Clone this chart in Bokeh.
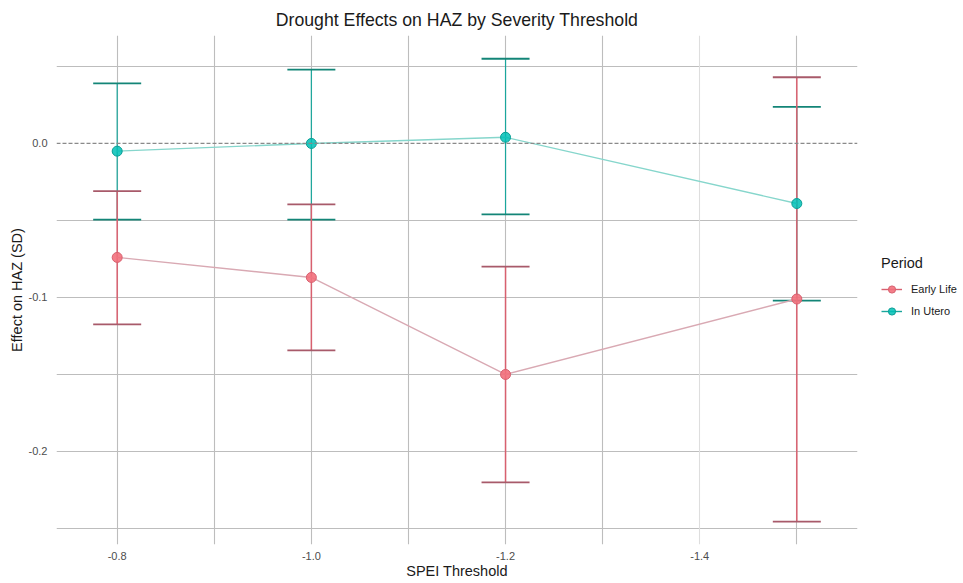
import math
from bokeh.plotting import figure
from bokeh.models import (Range1d, FixedTicker, Whisker, TeeHead, ColumnDataSource,
                          Span, Legend, LegendItem, Grid, NumeralTickFormatter)
from bokeh.embed import file_html
from bokeh.resources import INLINE

# ---- data ----
thresholds = [-0.8, -1.0, -1.2, -1.5]
early_est = [-0.074, -0.087, -0.150, -0.101]
early_lo = [-0.1175, -0.1344, -0.220, -0.2455]
early_hi = [-0.031, -0.0396, -0.080, 0.043]
utero_est = [-0.005, 0.0, 0.004, -0.039]
utero_lo = [-0.0494, -0.0494, -0.046, -0.102]
utero_hi = [0.039, 0.048, 0.055, 0.0237]
x_ticks = [-0.8, -1.0, -1.2, -1.4]
y_ticks = [0.0, -0.1, -0.2]

FONT = "Liberation Sans"

p = figure(frame_width=801, frame_height=509, output_backend="svg", toolbar_location=None,
           x_range=Range1d(-0.7375, -1.5625), y_range=Range1d(-0.2604, 0.0701),
           min_border_left=56, min_border_right=98, min_border_top=35, min_border_bottom=31)
p.outline_line_color = None
p.background_fill_color = "white"
p.border_fill_color = "white"

p.title.text = "Drought Effects on HAZ by Severity Threshold"
p.title.text_font = FONT
p.title.text_font_size = "17.7px"
p.title.text_font_style = "normal"
p.title.align = "center"
p.title.text_color = "#1a1a1a"
p.title.standoff = 11

# axes
for ax in (p.xaxis[0], p.yaxis[0]):
    ax.axis_line_color = None
    ax.major_tick_line_color = None
    ax.minor_tick_line_color = None
    ax.major_label_text_font = FONT
    ax.major_label_text_font_size = "11px"
    ax.major_label_text_color = "#4d4d4d"
    ax.axis_label_text_font = FONT
    ax.axis_label_text_font_size = "14.5px"
    ax.axis_label_text_font_style = "normal"
    ax.axis_label_text_color = "#1a1a1a"
    ax.formatter = NumeralTickFormatter(format="0.0")
p.xaxis.ticker = FixedTicker(ticks=x_ticks)
p.yaxis.ticker = FixedTicker(ticks=y_ticks)
p.xaxis.axis_label = "SPEI Threshold"
p.yaxis.axis_label = "Effect on HAZ (SD)"
p.xaxis.major_label_standoff = 1
p.yaxis.major_label_standoff = 3
p.xaxis.axis_label_standoff = 0
p.yaxis.axis_label_standoff = 1

# grids
p.xgrid.ticker = FixedTicker(ticks=[-0.8, -0.9, -1.0, -1.1, -1.2, -1.3, -1.5])
p.xgrid.grid_line_color = "#bdbdbd"
p.xgrid.grid_line_width = 1.1
p.ygrid.ticker = FixedTicker(ticks=[0.05, -0.05, -0.1, -0.15, -0.2, -0.25])
p.ygrid.grid_line_color = "#bdbdbd"
p.ygrid.grid_line_width = 1.1
p.add_layout(Grid(dimension=0, ticker=FixedTicker(ticks=[-1.4]),
                  grid_line_color="#dedede", grid_line_width=1.1))

p.add_layout(Span(location=0, dimension="width", line_color="#8a8a8a",
                  line_dash="4 2", line_width=1.2))

early_src = ColumnDataSource(dict(x=thresholds, y=early_est, lo=early_lo, hi=early_hi))
utero_src = ColumnDataSource(dict(x=thresholds, y=utero_est, lo=utero_lo, hi=utero_hi))

# connecting lines
p.line("x", "y", source=early_src, line_color="#d9a9b3", line_width=1.4)
p.line("x", "y", source=utero_src, line_color="#86d6cc", line_width=1.4)

# error bars
for src, stem, cap, sw in ((utero_src, "#1aa69c", "#138577", 1.2),
                           (early_src, "#d8606f", "#a85a6a", 1.5)):
    w = Whisker(source=src, base="x", upper="hi", lower="lo",
                line_color=stem, line_width=sw,
                upper_head=TeeHead(size=48, line_color=cap, line_width=1.8),
                lower_head=TeeHead(size=48, line_color=cap, line_width=1.8))
    p.add_layout(w)

# points
pe = p.scatter("x", "y", source=early_src, size=10, fill_color="#f2707c",
               line_color="#d8606f", fill_alpha=0.9, line_width=1)
pu = p.scatter("x", "y", source=utero_src, size=10, fill_color="#00bfb6",
               line_color="#0a9e95", fill_alpha=0.85, line_width=1)

# legend glyph lines (no visible data)
le = p.line([math.nan], [math.nan], line_color="#d8606f", line_width=1.4)
lu = p.line([math.nan], [math.nan], line_color="#1aa69c", line_width=1.4)

legend = Legend(items=[LegendItem(label="Early Life", renderers=[le, pe]),
                       LegendItem(label="In Utero", renderers=[lu, pu])],
                location=(24, 224), title="Period")
legend.title_text_font = FONT
legend.title_text_font_size = "14.5px"
legend.title_text_font_style = "normal"
legend.title_text_color = "#1a1a1a"
legend.title_standoff = 9
legend.label_text_font = FONT
legend.label_text_font_size = "11px"
legend.label_text_color = "#1a1a1a"
legend.glyph_width = 21
legend.glyph_height = 18
legend.label_standoff = 9
legend.spacing = 4
legend.padding = 0
legend.margin = 0
legend.border_line_color = None
legend.background_fill_alpha = 0
p.add_layout(legend, "right")

open("out.html", "w").write(file_html(p, INLINE))
